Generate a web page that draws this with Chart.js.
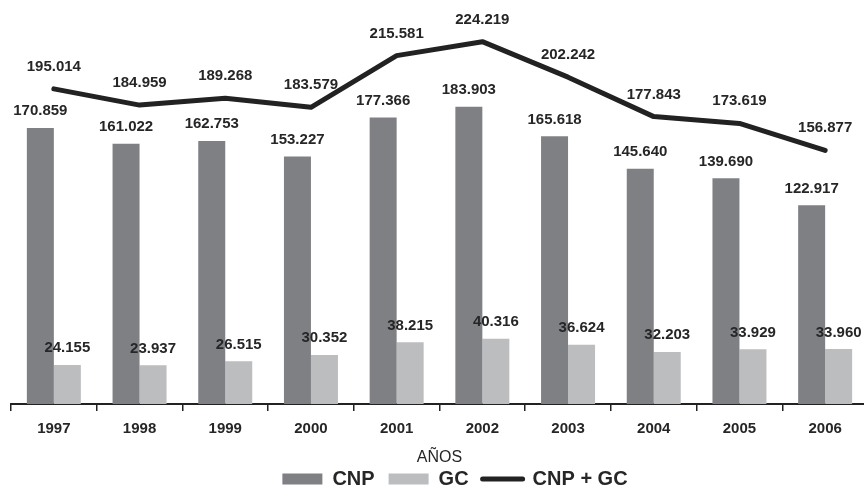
<!DOCTYPE html>
<html>
<head>
<meta charset="utf-8">
<script src="https://cdn.jsdelivr.net/npm/chart.js@4"></script>
<style>
  html, body { margin: 0; padding: 0; background: #fff; overflow: hidden; }
  #wrap { width: 910px; height: 490px; }
</style>
</head>
<body>
<div id="wrap"><canvas id="chart"></canvas></div>
<script>
const years = ['1997', '1998', '1999', '2000', '2001', '2002', '2003', '2004', '2005', '2006'];
const cnp = [170.859, 161.022, 162.753, 153.227, 177.366, 183.903, 165.618, 145.640, 139.690, 122.917];
const gc = [24.155, 23.937, 26.515, 30.352, 38.215, 40.316, 36.624, 32.203, 33.929, 33.960];
const total = [195.014, 184.959, 189.268, 183.579, 215.581, 224.219, 202.242, 177.843, 173.619, 156.877];

const txt = '#262626';
const fontFam = '"Liberation Sans", Arial, sans-serif';

// value labels above bars and line points
const valueLabels = {
  id: 'valueLabels',
  afterDatasetsDraw(chart) {
    const ctx = chart.ctx;
    ctx.save();
    ctx.font = 'bold 15px ' + fontFam;
    ctx.fillStyle = txt;
    ctx.textAlign = 'center';
    ctx.textBaseline = 'alphabetic';
    chart.data.datasets.forEach((ds, i) => {
      const meta = chart.getDatasetMeta(i);
      const off = ds.type === 'line' ? 18 : 12.5;
      meta.data.forEach((el, j) => {
        ctx.fillText(ds.data[j].toFixed(3), el.x, el.y - off);
      });
    });
    ctx.restore();
  }
};

// invisible side axes only reserve room
const spacer = w => ({
  display: true,
  grid: { display: false },
  border: { display: false },
  ticks: { display: false },
  afterFit(s) { s.width = w; }
});

new Chart(document.getElementById('chart'), {
  type: 'bar',
  data: {
    labels: years,
    datasets: [
      { label: 'CNP + GC', type: 'line', data: total, borderColor: '#222222', backgroundColor: '#222222',
        borderWidth: 5, pointRadius: 0, tension: 0, borderCapStyle: 'round', borderJoinStyle: 'round', order: 0 },
      { label: 'CNP', data: cnp, backgroundColor: '#7f8084', order: 1 },
      { label: 'GC', data: gc, backgroundColor: '#bcbdbf', order: 1 }
    ]
  },
  options: {
    responsive: true,
    maintainAspectRatio: false,
    animation: false,
    layout: { padding: { left: 0, right: 0, top: 0, bottom: -9 } },
    datasets: { bar: { categoryPercentage: 0.63, barPercentage: 1 } },
    scales: {
      x: {
        grid: { drawOnChartArea: false, drawTicks: true, tickLength: 7, color: '#222', lineWidth: 1.5 },
        border: { color: '#222', width: 2 },
        ticks: { color: txt, font: { family: fontFam, size: 15, weight: 'bold' }, padding: 9 },
        title: { display: true, text: 'AÑOS', color: txt, font: { family: fontFam, size: 16 }, padding: { top: 1.4, bottom: -12.6 } }
      },
      y: Object.assign(spacer(11), { position: 'left', min: 0, max: 250 }),
      yr: Object.assign(spacer(42), { position: 'right' })
    },
    plugins: {
      tooltip: { enabled: false },
      legend: {
        position: 'bottom',
        labels: {
          usePointStyle: true,
          pointStyleWidth: 40,
          boxHeight: 11,
          padding: 14,
          color: txt,
          font: { family: fontFam, size: 20, weight: 'bold' },
          generateLabels() {
            return [
              { text: 'CNP', fillStyle: '#7f8084', strokeStyle: '#7f8084', lineWidth: 0, pointStyle: 'rect', fontColor: txt },
              { text: 'GC', fillStyle: '#bcbdbf', strokeStyle: '#bcbdbf', lineWidth: 0, pointStyle: 'rect', fontColor: txt },
              { text: 'CNP + GC', fillStyle: '#222222', strokeStyle: '#222222', lineWidth: 5, lineCap: 'round', pointStyle: 'line', fontColor: txt }
            ];
          }
        }
      }
    }
  },
  plugins: [valueLabels]
});
</script>
</body>
</html>
